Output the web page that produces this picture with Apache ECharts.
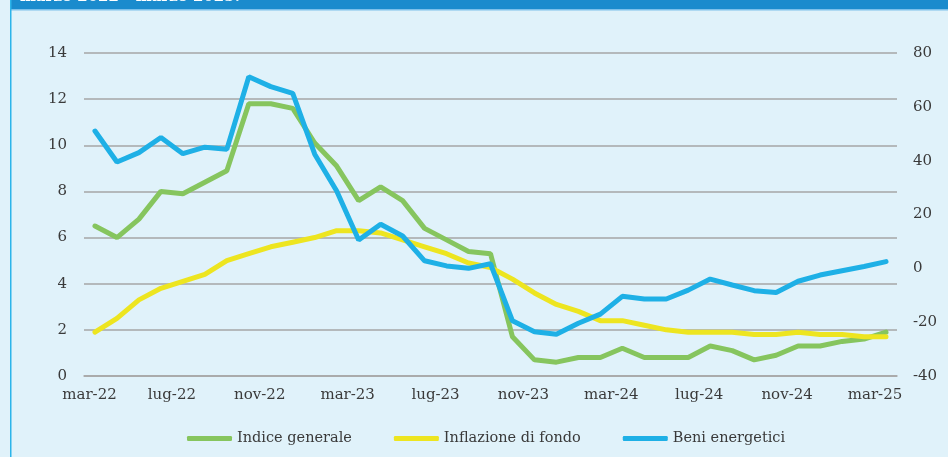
<!DOCTYPE html>
<html>
<head>
<meta charset="utf-8">
<title>Inflazione</title>
<script src="https://cdn.jsdelivr.net/npm/echarts@6/dist/echarts.min.js"></script>
<style>
  html, body { margin: 0; padding: 0; background: #e0f2fa; }
  #main { width: 948px; height: 457px; }
</style>
</head>
<body>
<div id="main"></div>
<script>
// mesi da marzo 2022 a marzo 2025
const months = [
  'mar-22', 'apr-22', 'mag-22', 'giu-22', 'lug-22', 'ago-22', 'set-22', 'ott-22', 'nov-22', 'dic-22',
  'gen-23', 'feb-23', 'mar-23', 'apr-23', 'mag-23', 'giu-23', 'lug-23', 'ago-23', 'set-23', 'ott-23', 'nov-23', 'dic-23',
  'gen-24', 'feb-24', 'mar-24', 'apr-24', 'mag-24', 'giu-24', 'lug-24', 'ago-24', 'set-24', 'ott-24', 'nov-24', 'dic-24',
  'gen-25', 'feb-25', 'mar-25'
];

// scala di sinistra
const indiceGenerale = [
  6.5, 6.0, 6.8, 8.0, 7.9, 8.4, 8.9, 11.8, 11.8, 11.6,
  10.1, 9.1, 7.6, 8.2, 7.6, 6.4, 5.9, 5.4, 5.3, 1.7, 0.7, 0.6,
  0.8, 0.8, 1.2, 0.8, 0.8, 0.8, 1.3, 1.1, 0.7, 0.9, 1.3, 1.3,
  1.5, 1.6, 1.9
];
const inflazioneDiFondo = [
  1.9, 2.5, 3.3, 3.8, 4.1, 4.4, 5.0, 5.3, 5.6, 5.8,
  6.0, 6.3, 6.3, 6.2, 5.9, 5.6, 5.3, 4.9, 4.7, 4.2, 3.6, 3.1,
  2.8, 2.4, 2.4, 2.2, 2.0, 1.9, 1.9, 1.9, 1.8, 1.8, 1.9, 1.8,
  1.8, 1.7, 1.7
];
// scala di destra
const beniEnergetici = [
  51, 39.5, 43, 48.6, 42.6, 45, 44.2, 71.2, 67.5, 65,
  42.4, 28.7, 10.5, 16.4, 12, 2.8, 0.9, 0, 1.7, -19.5, -23.6, -24.5,
  -20.4, -17, -10.4, -11.4, -11.4, -8.1, -4, -6.2, -8.3, -9, -4.8, -2.5,
  -0.9, 0.7, 2.5
];

const leftTicks = { min: 0, max: 14, interval: 2 };
const rightTicks = { min: -40, max: 80, interval: 20 };

const font = 'DejaVu Serif';
const textColor = '#3a3a3a';
const gridColor = '#a6a6a6';

let myChart = echarts.init(document.getElementById('main'));

myChart.setOption({
  backgroundColor: '#e0f2fa',
  animation: false,
  graphic: [
    // barra del titolo (tagliata in alto)
    { type: 'rect', left: 11, top: 0, shape: { width: 937, height: 9 }, style: { fill: '#1a8bcd' }, z: 10 },
    { type: 'rect', left: 11, top: 9, shape: { width: 937, height: 1.5 }, style: { fill: '#7cc0ea' }, z: 10 },
    { type: 'rect', left: 10, top: 0, shape: { width: 1.5, height: 457 }, style: { fill: '#2bb4ea' }, z: 10 },
    {
      type: 'text', left: 20, top: -10, z: 11,
      style: { text: 'marzo 2022 - marzo 2025.', fill: '#ffffff', font: 'bold 15px "DejaVu Serif"' }
    }
  ],
  grid: { left: 84, right: 51, top: 53, bottom: 81, containLabel: false },
  legend: {
    left: 182,
    top: 426,
    itemWidth: 45,
    itemHeight: 5,
    itemGap: 42,
    icon: 'roundRect',
    textStyle: { fontFamily: font, fontSize: 14.5, color: textColor },
    data: ['Indice generale', 'Inflazione di fondo', 'Beni energetici']
  },
  xAxis: {
    type: 'category',
    data: months,
    boundaryGap: true,
    axisLine: { lineStyle: { color: gridColor, width: 1.5 } },
    axisTick: { interval: 3, length: 5, lineStyle: { color: gridColor, width: 1.5 } },
    axisLabel: {
      interval: 3,
      margin: 12,
      formatter: (v, i) => (i === 0 ? '{a|' + v + '}' : '{b|' + v + '}'),
      rich: {
        a: { fontFamily: font, fontSize: 15, color: textColor, padding: [0, 11, 0, 0] },
        b: { fontFamily: font, fontSize: 15, color: textColor, padding: [0, 22, 0, 0] }
      }
    },
    splitLine: { show: false }
  },
  yAxis: [
    {
      type: 'value',
      min: leftTicks.min,
      max: leftTicks.max,
      interval: leftTicks.interval,
      axisLine: { show: false },
      axisTick: { show: false },
      axisLabel: { margin: 17, fontFamily: font, fontSize: 15, color: textColor },
      splitLine: { lineStyle: { color: gridColor, width: 1.5 } }
    },
    {
      type: 'value',
      min: rightTicks.min,
      max: rightTicks.max,
      interval: rightTicks.interval,
      position: 'right',
      axisLine: { show: false },
      axisTick: { show: false },
      axisLabel: { margin: 16, fontFamily: font, fontSize: 15, color: textColor },
      splitLine: { show: false }
    }
  ],
  series: [
    {
      name: 'Indice generale',
      type: 'line',
      data: indiceGenerale,
      yAxisIndex: 0,
      symbol: 'none',
      itemStyle: { color: '#86c55e' },
      lineStyle: { color: '#86c55e', width: 5, cap: 'round' }
    },
    {
      name: 'Inflazione di fondo',
      type: 'line',
      data: inflazioneDiFondo,
      yAxisIndex: 0,
      symbol: 'none',
      itemStyle: { color: '#ede520' },
      lineStyle: { color: '#ede520', width: 5, cap: 'round' }
    },
    {
      name: 'Beni energetici',
      type: 'line',
      data: beniEnergetici,
      yAxisIndex: 1,
      symbol: 'none',
      itemStyle: { color: '#1eb0e6' },
      lineStyle: { color: '#1eb0e6', width: 5, cap: 'round' }
    }
  ]
});

window.addEventListener('resize', () => {
  myChart.resize();
});
</script>
</body>
</html>
